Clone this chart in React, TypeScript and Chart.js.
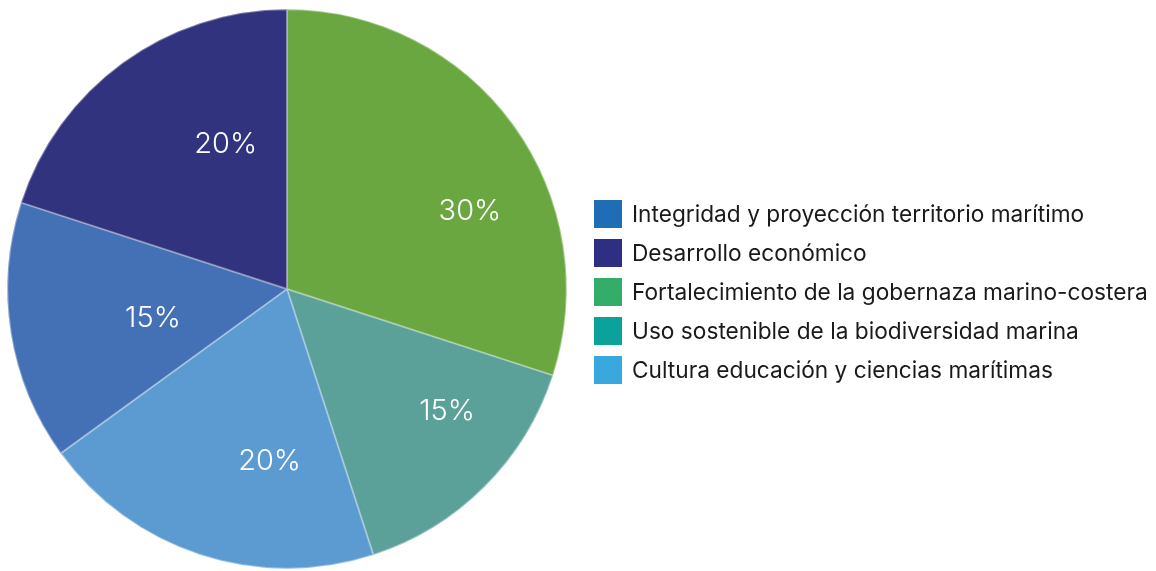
import React, { useEffect, useRef } from "react";
import { Chart, registerables } from "chart.js";

Chart.register(...registerables);

const categories = [
  "Integridad y proyección territorio marítimo",
  "Desarrollo económico",
  "Fortalecimiento de la gobernaza marino-costera",
  "Uso sostenible de la biodiversidad marina",
  "Cultura educación y ciencias marítimas",
];
const values = [15, 20, 30, 15, 20];
const sliceColors = ["#4470B6", "#32337E", "#6BA740", "#5BA199", "#5B9BD2"];
const legendColors = ["#1F6DB4", "#2E2E82", "#34AD68", "#0AA29A", "#3AA7DF"];
// label placement inside each slice: fraction along the arc, fraction of radius
const labelAngleFrac = [0.44, 0.68, 0.62, 0.36, 0.33];
const labelRadiusFrac = [0.49, 0.56, 0.71, 0.72, 0.62];

const FONT = "Inter, 'Open Sans', sans-serif";

const labelPlugin = {
  id: "sliceLabels",
  afterDatasetsDraw(chart: any) {
    const ctx = chart.ctx;
    const meta = chart.getDatasetMeta(0);
    const data = chart.data.datasets[0].data as number[];
    const total = data.reduce((a, b) => a + b, 0);
    ctx.save();
    ctx.fillStyle = "#ffffff";
    ctx.font = `300 29px ${FONT}`;
    ctx.textAlign = "center";
    ctx.textBaseline = "middle";
    meta.data.forEach((arc: any, i: number) => {
      const p = arc.getProps(["x", "y", "startAngle", "endAngle", "outerRadius"], true);
      const a = p.startAngle + labelAngleFrac[i] * (p.endAngle - p.startAngle);
      const r = p.outerRadius * labelRadiusFrac[i];
      const pct = Math.round((data[i] / total) * 100);
      ctx.fillText(`${pct}%`, p.x + Math.cos(a) * r, p.y + Math.sin(a) * r);
    });
    ctx.restore();
  },
};

export default function App() {
  const ref = useRef<HTMLCanvasElement>(null);
  useEffect(() => {
    if (!ref.current) return;
    const chart = new Chart(ref.current, {
      type: "pie",
      data: {
        labels: categories,
        datasets: [
          {
            data: values,
            backgroundColor: sliceColors,
            borderColor: "rgba(255,255,255,0.35)",
            borderWidth: 1,
            borderAlign: "inner",
          },
        ],
      },
      options: {
        responsive: false,
        animation: false,
        devicePixelRatio: 1,
        rotation: 234,
        layout: { padding: { left: 7, top: 9, right: 589, bottom: 2 } },
        plugins: {
          legend: { display: false },
          tooltip: { enabled: false },
        },
      },
      plugins: [labelPlugin],
    });
    return () => chart.destroy();
  }, []);

  return (
    <div style={{ position: "fixed", left: 0, top: 0, width: 1156, height: 571, background: "#fff" }}>
      <canvas ref={ref} width={1156} height={571} style={{ position: "absolute", left: 0, top: 0 }} />
      <div style={{ position: "absolute", left: 594, top: 200 }}>
        {categories.map((c, i) => (
          <div key={c} style={{ display: "flex", alignItems: "center", height: 28, marginBottom: 11 }}>
            <div style={{ width: 28, height: 28, background: legendColors[i], flex: "none" }} />
            <span
              style={{
                marginLeft: 10,
                fontFamily: FONT,
                fontSize: 22.7,
                color: "#1a1a1a",
                whiteSpace: "nowrap",
                lineHeight: "28px",
              }}
            >
              {c}
            </span>
          </div>
        ))}
      </div>
    </div>
  );
}
